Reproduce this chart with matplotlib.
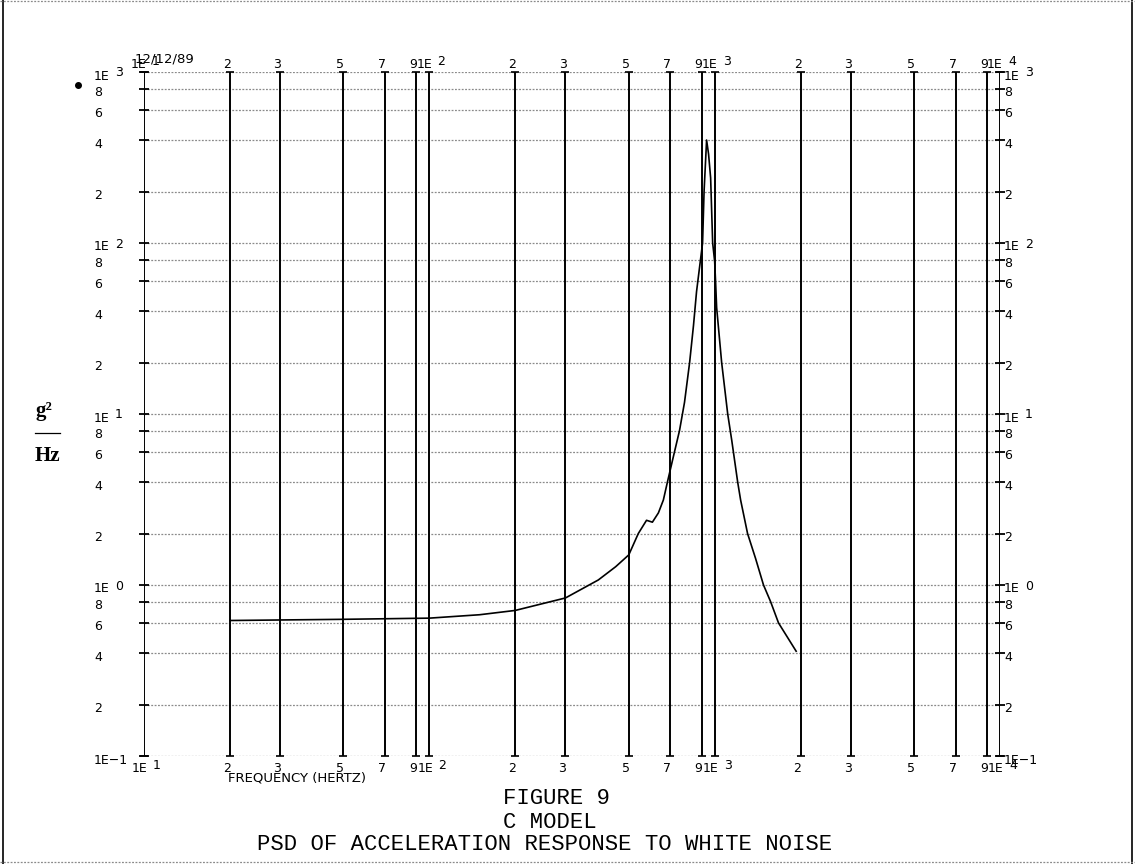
import matplotlib
matplotlib.use("Agg")
import matplotlib.pyplot as plt
from matplotlib.lines import Line2D
from matplotlib.transforms import blended_transform_factory, offset_copy

# acceleration PSD response, frequency in Hz, level in g^2/Hz
freq = [20, 50, 100, 150, 200, 300, 391, 450, 500, 540,
        577, 605, 635, 661, 683, 723, 753, 784, 817, 843,
        864, 907, 918, 937, 952, 968, 984, 1000, 1008, 1016,
        1058, 1111, 1148, 1204, 1233, 1304, 1391, 1483, 1570, 1674,
        1930]
psd = [0.62, 0.63, 0.64, 0.67, 0.71, 0.84, 1.07, 1.28, 1.5, 2.0,
       2.39, 2.33, 2.64, 3.14, 4.0, 6.0, 8.0, 11.7, 20, 33,
       52, 100, 200, 400, 331, 240, 100, 78, 58, 42,
       20, 10, 7.0, 4.0, 3.14, 2.0, 1.43, 1.0, 0.8, 0.6,
       0.41]

x_exps = [1, 2, 3, 4]
x_mults = [2, 3, 5, 7, 9]
y_exps = [-1, 0, 1, 2, 3]
y_mults = [2, 4, 6, 8]

caption = ["FIGURE 9", "C MODEL", "PSD OF ACCELERATION RESPONSE TO WHITE NOISE"]
date_text = "12/12/89"
xlabel_text = "FREQUENCY (HERTZ)"

W, H = 1135, 864
fig = plt.figure(figsize=(W / 100, H / 100), dpi=100)


def fx(px):
    return px / W


def fy(py):
    return 1 - py / H


ax = fig.add_axes([fx(144), fy(756), fx(1000) - fx(144), fy(72) - fy(756)])
ax.set_xscale("log")
ax.set_yscale("log")
ax.set_xlim(10, 10000)
ax.set_ylim(0.1, 1000)
ax.set_xticks([])
ax.set_xticks([], minor=True)
ax.set_yticks([])
ax.set_yticks([], minor=True)
for s in ax.spines.values():
    s.set_visible(False)

x_dec = [10.0 ** e for e in x_exps]
y_dec = [10.0 ** e for e in y_exps]
vlines = x_dec + [d * m for d in x_dec[:-1] for m in x_mults]
hlines = y_dec + [d * m for d in y_dec[:-1] for m in y_mults]

for y in hlines:
    ax.axhline(y, color="#8a8a8a", lw=0.9, ls=(0, (1.5, 1.2)), zorder=1)
for x in vlines:
    ax.axvline(x, color="black", lw=1.4, zorder=2)

# small crossbars on the frame lines
ax.plot([10] * len(hlines), hlines, ls="none", marker="_", ms=7, mew=1.3,
        color="black", clip_on=False, zorder=3)
ax.plot([10000] * len(hlines), hlines, ls="none", marker="_", ms=7, mew=1.3,
        color="black", clip_on=False, zorder=3)
ax.plot(vlines, [1000] * len(vlines), ls="none", marker="_", ms=6, mew=1.2,
        color="black", clip_on=False, zorder=3)
ax.plot(vlines, [0.1] * len(vlines), ls="none", marker="_", ms=6, mew=1.2,
        color="black", clip_on=False, zorder=3)

ax.plot(freq, psd, color="black", lw=1.2, zorder=4)

tick_font = dict(fontsize=9, family="DejaVu Sans", color="black")


def decade_label(x, y, exp, trans, dx=0, dy=0, va="center"):
    base = offset_copy(trans, fig=fig, x=dx, y=dy, units="dots")
    if exp < 0:
        ax.text(x, y, f"1E\u2212{-exp}", transform=base, ha="left", va=va,
                **tick_font)
        return
    ax.text(x, y, "1E", transform=base, ha="left", va=va, **tick_font)
    sup = offset_copy(trans, fig=fig, x=dx + 21, y=dy + 3, units="dots")
    ax.text(x, y, str(exp), transform=sup, ha="left", va=va, **tick_font)


# y labels, left and right of the frame
left_t = blended_transform_factory(fig.transFigure, ax.transData)
for side_x in (fx(94), fx(1004)):
    for e, d in zip(y_exps, y_dec):
        decade_label(side_x, d, e, left_t, dy=-4)
    for d in y_dec[:-1]:
        for m in y_mults:
            ax.text(side_x, d * m, str(m),
                    transform=offset_copy(left_t, fig=fig, y=-4, units="dots"),
                    ha="left", va="center", **tick_font)

# x labels along top and bottom
top_t = blended_transform_factory(ax.transData, ax.transAxes)
for e, d in zip(x_exps, x_dec):
    decade_label(d, 1.0, e, top_t, dx=-13, dy=1, va="bottom")
    decade_label(d, 0.0, e, top_t, dx=-12, dy=-6, va="top")
for d in x_dec[:-1]:
    for m in x_mults:
        ax.text(d * m, 1.0, str(m),
                transform=offset_copy(top_t, fig=fig, x=1, y=1, units="dots"),
                ha="right", va="bottom", **tick_font)
        ax.text(d * m, 0.0, str(m),
                transform=offset_copy(top_t, fig=fig, x=-3, y=-6, units="dots"),
                ha="center", va="top", **tick_font)

fig.text(fx(135), fy(59), date_text, ha="left", va="center", fontsize=9.5,
         family="DejaVu Sans")
fig.text(fx(228), fy(778), xlabel_text, ha="left", va="center", fontsize=9.5,
         family="DejaVu Sans")

# y axis units
fig.text(fx(35), fy(411), "g\u00b2", ha="left", va="center", fontsize=15,
         family="Liberation Serif", weight="bold")
fig.add_artist(Line2D([fx(35), fx(60)], [fy(433), fy(433)], color="black",
                      lw=0.9))
fig.text(fx(35), fy(456), "Hz", ha="left", va="center", fontsize=15,
         family="Liberation Serif", weight="bold")
fig.add_artist(Line2D([fx(78)], [fy(85)], marker="o", ms=4, color="black"))

# caption block
fig.text(fx(503), fy(798), caption[0], ha="left", va="center", fontsize=16,
         family="Liberation Mono")
fig.text(fx(503), fy(822), caption[1], ha="left", va="center", fontsize=16,
         family="Liberation Mono")
fig.text(fx(257), fy(845), caption[2], ha="left", va="center", fontsize=16,
         family="Liberation Mono")

# page frame
fig.add_artist(Line2D([fx(3), fx(3)], [0, 1], color="black", lw=1.2))
fig.add_artist(Line2D([fx(1132), fx(1132)], [0, 1], color="black", lw=1.2))
fig.add_artist(Line2D([0, 1], [fy(1), fy(1)], color="#8a8a8a", lw=0.9,
                      ls=(0, (1.5, 1.2))))
fig.add_artist(Line2D([0, 1], [fy(862), fy(862)], color="#8a8a8a", lw=0.9,
                      ls=(0, (1.5, 1.2))))

fig.savefig("out.png", dpi=100, facecolor="white")
